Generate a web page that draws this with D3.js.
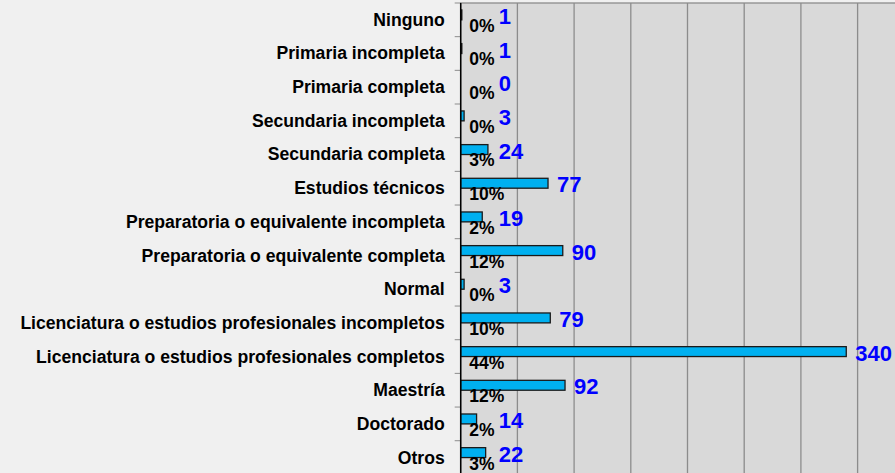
<!DOCTYPE html>
<html>
<head>
<meta charset="utf-8">
<script src="https://cdn.jsdelivr.net/npm/d3@7"></script>
<style>
  body { margin: 0; background: #f0f0f0; overflow: hidden; }
  svg { display: block; font-family: "Liberation Sans", Arial, sans-serif; font-weight: bold; }
</style>
</head>
<body>
<div id="chart"></div>
<script>
// categories, counts and percentages
const categories = [
  "Ninguno",
  "Primaria incompleta",
  "Primaria completa",
  "Secundaria incompleta",
  "Secundaria completa",
  "Estudios técnicos",
  "Preparatoria o equivalente incompleta",
  "Preparatoria o equivalente completa",
  "Normal",
  "Licenciatura o estudios profesionales incompletos",
  "Licenciatura o estudios profesionales completos",
  "Maestría",
  "Doctorado",
  "Otros"
];
const counts = [1, 1, 0, 3, 24, 77, 19, 90, 3, 79, 340, 92, 14, 22];
const percents = [0, 0, 0, 0, 3, 10, 2, 12, 0, 10, 44, 12, 2, 3];
const xTicks = [0, 50, 100, 150, 200, 250, 300, 350, 400];

const width = 895, height = 473;
const plot = { left: 460.7, top: 3, right: 914.3, bottom: 474.4 };

const rows = categories.map((c, i) => ({ name: c, count: counts[i], pct: percents[i] }));

const svg = d3.select('#chart').append('svg')
  .attr('width', width)
  .attr('height', height);

const x = d3.scaleLinear().domain([0, 400]).range([plot.left, plot.right]);
const y = d3.scaleBand().domain(categories).range([plot.top, plot.bottom]);
// two slots per row: the bar and the (hidden) percent series below it
const slot = d3.scaleBand().domain(['count', 'pct'])
  .range([0, y.bandwidth()]).paddingInner(0).paddingOuter(0.7);

// plot background
svg.append('rect')
  .attr('x', plot.left).attr('y', plot.top)
  .attr('width', plot.right - plot.left).attr('height', plot.bottom - plot.top)
  .attr('fill', '#d9d9d9')
  .attr('stroke', '#8c8c8c').attr('stroke-width', 1.3);

// vertical gridlines
svg.append('g').selectAll('line')
  .data(xTicks.slice(1))
  .join('line')
  .attr('x1', d => x(d)).attr('x2', d => x(d))
  .attr('y1', plot.top).attr('y2', plot.bottom)
  .attr('stroke', '#8c8c8c').attr('stroke-width', 1.3);

// tick marks at row boundaries
svg.append('g').selectAll('line')
  .data(d3.range(categories.length + 1))
  .join('line')
  .attr('x1', plot.left - 6).attr('x2', plot.left)
  .attr('y1', i => plot.top + i * y.step()).attr('y2', i => plot.top + i * y.step())
  .attr('stroke', '#8c8c8c').attr('stroke-width', 1);

// bars
svg.append('g').selectAll('rect')
  .data(rows)
  .join('rect')
  .attr('x', x(0))
  .attr('y', d => y(d.name) + slot('count'))
  .attr('width', d => x(d.count) - x(0))
  .attr('height', slot.bandwidth())
  .attr('fill', '#00b0f0')
  .attr('stroke', '#1a1a1a')
  .attr('stroke-width', 1.3);

// left axis line
svg.append('line')
  .attr('x1', plot.left).attr('x2', plot.left)
  .attr('y1', plot.top).attr('y2', plot.bottom)
  .attr('stroke', '#000').attr('stroke-width', 1.5);

// category labels
svg.append('g').selectAll('text')
  .data(rows)
  .join('text')
  .attr('x', plot.left - 16)
  .attr('y', d => y(d.name) + 22.8)
  .attr('text-anchor', 'end')
  .attr('font-size', 17.6)
  .attr('fill', '#000')
  .text(d => d.name);

// percent labels
svg.append('g').selectAll('text')
  .data(rows)
  .join('text')
  .attr('x', x(0) + 8.5)
  .attr('y', d => y(d.name) + 28.8)
  .attr('font-size', 17.5)
  .attr('fill', '#000')
  .text(d => d.pct + '%');

// value labels
svg.append('g').selectAll('text')
  .data(rows)
  .join('text')
  .attr('x', d => Math.max(x(d.count) + 9, x(0) + 38))
  .attr('y', d => y(d.name) + 21)
  .attr('font-size', 22)
  .attr('fill', '#0000ff')
  .text(d => d.count);
</script>
</body>
</html>
